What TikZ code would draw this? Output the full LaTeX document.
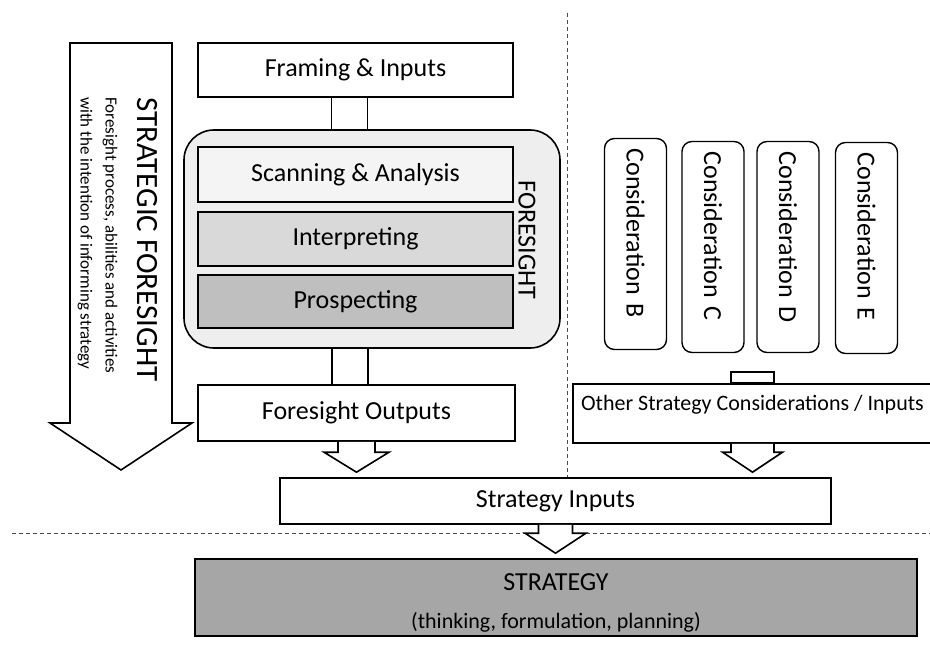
\documentclass[tikz,border=0pt]{standalone}
\usepackage{fontspec}
\setmainfont{Carlito}
\usepackage{tikz}
\usetikzlibrary{calc}

\definecolor{scanfill}{HTML}{F4F4F4}
\definecolor{interpfill}{HTML}{D9D9D9}
\definecolor{prospfill}{HTML}{BFBFBF}
\definecolor{stratfill}{HTML}{A6A6A6}
\definecolor{forefill}{HTML}{EEEEEE}

\tikzset{
	stagebox/.style={draw, line width=1.6pt, inner sep=0pt, font=\fontsize{26}{30}\selectfont},
	considbox/.style={draw, line width=1.4pt, rounded corners=10pt, rotate=-90, minimum width=211pt, minimum height=62pt, text width=191pt, align=left, inner xsep=10pt, inner ysep=0pt, font=\fontsize{26}{30}\selectfont},
	divider/.style={draw=black!70, line width=0.8pt, dash pattern=on 4pt off 3pt},
	blockline/.style={draw, line width=1.6pt, fill=white, line join=miter},
}

\newcommand{\blockarrow}[4]{%
	\draw[blockline] ($(#1.south)+(-#3,0)$) -- ($(#1.south |- #2.north)+(-#3,-25)$) -- ++(#3-#4,0) -- ($(#1.south |- #2.north)+(0,-5)$) -- ($(#1.south |- #2.north)+(#4,-25)$) -- ++(#3-#4,0) -- ($(#1.south)+(#3,0)$);}

\begin{document}
\begin{tikzpicture}[x=1pt, y=-1pt]
						\useasboundingbox (0,0) rectangle (930,666);
						\draw[blockline] (70,43) -- (172,43) -- (172,423) -- (192,423) -- (121,470) -- (50,423) -- (70,423) -- cycle;
						\node[rotate=-90, anchor=west, inner sep=0pt, font=\fontsize{31}{36}\selectfont] (sftitle) at (147,97) {STRATEGIC FORESIGHT};
						\node[rotate=-90, anchor=west, inner sep=0pt, align=left, font=\fontsize{17}{25}\selectfont] (sfnote) at (97.5,97) {Foresight process, abilities and activities\\with the intention of informing strategy};
						\node[stagebox, minimum width=315pt, minimum height=54pt] (frame) at (355.5,70) {Framing \& Inputs};
						\node[draw, line width=1.6pt, fill=forefill, rounded corners=30pt, minimum width=376pt, minimum height=218pt] (fore) at (372,239) {};
						\draw[line width=1.6pt] ([xshift=-24pt]frame.south) -- ([xshift=-24pt]frame.south |- fore.north);
						\draw[line width=1.6pt] ([xshift=12pt]frame.south) -- ([xshift=12pt]frame.south |- fore.north);
						\node[stagebox, fill=scanfill, minimum width=315pt, minimum height=55pt] (scan) at (355.5,174.5) {Scanning \& Analysis};
						\node[stagebox, fill=interpfill, minimum width=315pt, minimum height=54pt] (interp) at (355.5,239) {Interpreting};
						\node[stagebox, fill=prospfill, minimum width=315pt, minimum height=53pt] (prosp) at (355.5,301.5) {Prospecting};
						\node[rotate=-90, inner sep=0pt, font=\fontsize{26}{30}\selectfont] (forelabel) at (527,240) {FORESIGHT};
						\node[stagebox, minimum width=317pt, minimum height=56pt] (outputs) at (356.5,413) {Foresight Outputs};
						\draw[line width=1.6pt] ([xshift=-24.5pt]outputs.north) -- ([xshift=-24.5pt]outputs.north |- fore.south);
						\draw[line width=1.6pt] ([xshift=11.5pt]outputs.north) -- ([xshift=11.5pt]outputs.north |- fore.south);
						\node[stagebox, minimum width=551pt, minimum height=46pt] (inputs) at (555.5,501) {Strategy Inputs};
						\node[stagebox, fill=stratfill, minimum width=722pt, minimum height=77pt, align=center] (strategy) at (556,597.5) {\rule{0pt}{27pt}STRATEGY\\[8pt]\fontsize{22}{26}\selectfont (thinking, formulation, planning)};
						\node[considbox] (considB) at (635.5,244) {Consideration B};
						\node[considbox] (considC) at (713,247) {Consideration C};
						\node[considbox] (considD) at (788,247) {Consideration D};
						\node[considbox] (considE) at (866.5,248) {Consideration E};
						\node[stagebox, minimum width=359pt, minimum height=59pt, align=center, font=\fontsize{22}{21}\selectfont] (other) at (752.5,413.5) {Other Strategy Considerations / Inputs\\ \mbox{}};
						\draw[line width=1.6pt] ($(other.north)+(-21.5,0)$) rectangle ++(43,-11);
						\draw[divider] (12,533) -- (930,533);
						\coordinate (divtop) at (567,13);
						\draw[divider] (divtop) -- (divtop |- inputs.north);
						\blockarrow{outputs}{inputs}{18.5}{32.5}
						\blockarrow{other}{inputs}{21.5}{30}
						\blockarrow{inputs}{strategy}{17}{30.5}
					\end{tikzpicture}
\end{document}
